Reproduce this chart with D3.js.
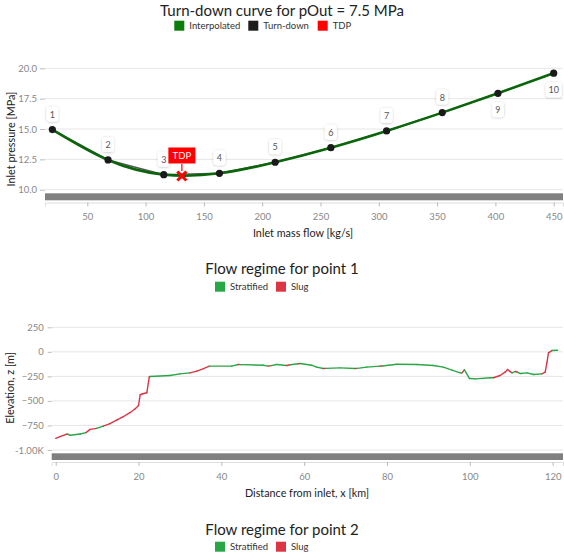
<!DOCTYPE html>
<html>
<head>
<meta charset="utf-8">
<script src="https://cdn.jsdelivr.net/npm/d3@7"></script>
<style>
  html, body { margin: 0; padding: 0; background: #fff; }
  svg { display: block; font-family: Lato, "Open Sans", sans-serif; }
</style>
</head>
<body>
<svg id="chart" width="564" height="556"></svg>
<script>
// ---------- Data: turn-down curve ----------
const pointIds      = [1, 2, 3, 4, 5, 6, 7, 8, 9, 10];
const massFlow      = [20, 67.78, 115.56, 163.33, 211.11, 258.89, 306.67, 354.44, 402.22, 450];
const inletPressure = [14.95, 12.45, 11.24, 11.35, 12.26, 13.46, 14.84, 16.35, 17.94, 19.6];
const labelSide     = ["above","above","above","above","above","above","above","above","below","below"];
const tdpFlow       = 131.1;
const tdpPressure   = 11.13;
const xTicks1       = [50, 100, 150, 200, 250, 300, 350, 400, 450];
const yTicks1       = [10, 12.5, 15, 17.5, 20];
const legend1       = ["Interpolated", "Turn-down", "TDP"];
const legend1Colors = ["#0a7d0a", "#1c1c1c", "#ff0000"];

// ---------- Data: flow regime for point 1 ----------
const distKm = [0.0, 1.0, 2.8, 3.5, 5.9, 7.3, 8.3, 9.9, 11.5, 13.1, 14.7, 16.3, 17.9, 19.2, 20.0, 20.4, 21.0, 22.0, 22.6, 22.8,
  27.6, 30.0, 32.4, 34.1, 35.7, 37.1, 42.5, 44.1, 44.6, 50.1, 51.4, 52.0, 53.4, 55.8, 56.6, 58.6, 59.0, 61.8, 63.0, 64.6,
  65.2, 68.7, 72.3, 72.8, 75.1, 78.3, 78.8, 82.4, 87.2, 91.2, 93.6, 95.7, 97.7, 98.1, 98.7, 99.9, 101.3, 104.9, 105.7, 107.3,
  108.5, 109.1, 109.6, 110.2, 111.0, 111.5, 112.2, 113.8, 115.4, 117.4, 118.2, 118.6, 119.0, 119.8, 121.2];
const elevationM = [-881, -864, -837, -850, -837, -823, -790, -780, -756, -732, -695, -661, -620, -580, -546, -437, -427, -417, -254, -251,
  -241, -224, -214, -197, -170, -146, -146, -129, -130, -136, -146, -140, -129, -139, -132, -122, -119, -136, -156, -170,
  -168, -163, -170, -168, -156, -146, -144, -126, -129, -139, -156, -187, -214, -214, -183, -271, -275, -264, -264, -241,
  -207, -180, -197, -214, -200, -208, -221, -214, -231, -224, -207, -112, -10, 13, 16];
// regime of the segment starting at each point: "S" stratified, "G" slug
const regime = ["G","G","S","S","S","G","G","S","G","G","G","G","G","G","G","G","G","G","G","S",
  "S","S","G","G","G","S","S","G","S","S","G","S","S","G","S","G","S","S","S","G",
  "S","S","G","S","S","G","S","S","S","S","S","S","S","G","S","S","S","S","G","G",
  "G","G","G","S","G","S","S","S","S","G","G","G","G","S","S"];
const xTicks2 = [0, 20, 40, 60, 80, 100, 120];
const yTicks2 = [250, 0, -250, -500, -750, -1000];
const legend2 = ["Stratified", "Slug"];
const legend2Colors = ["#28a745", "#dc3545"];

const svg = d3.select("#chart");
const gridColor = "#e6e6e6";
const tickColor = "#888";

const defs = svg.append("defs");
const f = defs.append("filter").attr("id", "shadow").attr("x", "-50%").attr("y", "-50%").attr("width", "200%").attr("height", "200%");
f.append("feDropShadow").attr("dx", 0).attr("dy", 0.5).attr("stdDeviation", 0.8).attr("flood-color", "#000").attr("flood-opacity", 0.25);

function legend(y, names, colors, xs) {
  names.forEach((n, i) => {
    svg.append("rect").attr("x", xs[i]).attr("y", y - 5).attr("width", 10).attr("height", 10).attr("fill", colors[i]);
    svg.append("text").attr("x", xs[i] + 15).attr("y", y + 3.6).attr("font-size", 9.5).attr("fill", "#333").text(n);
  });
}
function title(y, t) {
  svg.append("text").attr("x", 282).attr("y", y).attr("text-anchor", "middle").attr("font-size", 15).attr("fill", "#222").text(t);
}
function styleAxis(a) {
  a.select(".domain").attr("stroke", "#ddd");
  a.selectAll(".tick line").attr("stroke", "#bbb");
  a.selectAll(".tick text").attr("fill", tickColor).attr("font-size", 9.5).attr("font-family", "Lato");
}

// ================= Chart 1 =================
title(15.5, "Turn-down curve for pOut = 7.5 MPa");
legend(25.7, legend1, legend1Colors, [174.3, 248.3, 317.7]);

const x1 = d3.scaleLinear().domain([13.7, 458]).range([45, 563]);
const y1 = d3.scaleLinear().domain([10, 20]).range([189.7, 68.3]);

svg.append("g").selectAll("line").data(yTicks1).join("line")
  .attr("x1", 45).attr("x2", 563).attr("y1", d => y1(d)).attr("y2", d => y1(d))
  .attr("stroke", gridColor).attr("stroke-width", 1);
const ya1 = svg.append("g").attr("transform", "translate(45,0)")
  .call(d3.axisLeft(y1).tickValues(yTicks1).tickFormat(d3.format(".1f")).tickSize(5).tickPadding(3));
svg.append("rect").attr("x", 45).attr("y", 193.3).attr("width", 518).attr("height", 7).attr("fill", "#808080");
const xa1 = svg.append("g").attr("transform", "translate(0,202.5)")
  .call(d3.axisBottom(x1).tickValues(xTicks1).tickFormat(d3.format("d")).tickSize(4).tickPadding(7));
styleAxis(ya1); styleAxis(xa1);
ya1.select(".domain").remove();

svg.append("text").attr("x", 303).attr("y", 236.5).attr("text-anchor", "middle").attr("font-size", 10.8).attr("fill", "#222").text("Inlet mass flow [kg/s]");
svg.append("text").attr("transform", `translate(14.5,139) rotate(-90)`).attr("text-anchor", "middle").attr("font-size", 10.8).attr("fill", "#222").text("Inlet pressure [MPa]");

const pts = massFlow.map((m, i) => ({ x: m, y: inletPressure[i], id: pointIds[i], side: labelSide[i] }));
svg.append("path").datum(pts)
  .attr("d", d3.line().x(d => x1(d.x)).y(d => y1(d.y)))
  .attr("fill", "none").attr("stroke", "#555").attr("stroke-width", 1.5);
svg.append("path").datum(pts)
  .attr("d", d3.line().x(d => x1(d.x)).y(d => y1(d.y)).curve(d3.curveNatural))
  .attr("fill", "none").attr("stroke", "#0b650b").attr("stroke-width", 2.6);
svg.append("g").selectAll("circle").data(pts).join("circle")
  .attr("cx", d => x1(d.x)).attr("cy", d => y1(d.y)).attr("r", 3.6).attr("fill", "#1a1a1a");
const lab = svg.append("g").selectAll("g").data(pts).join("g")
  .attr("transform", d => `translate(${x1(d.x)},${y1(d.y) + (d.side === "above" ? -15 : 17)})`);
lab.append("rect").attr("x", d => d.id >= 10 ? -8 : -6).attr("y", -8).attr("width", d => d.id >= 10 ? 16 : 12).attr("height", 15)
  .attr("rx", 3).attr("fill", "#fff").attr("filter", "url(#shadow)");
lab.append("text").attr("text-anchor", "middle").attr("y", 3).attr("font-size", 9).attr("fill", "#555").text(d => d.id);

const tx = x1(tdpFlow), ty = y1(tdpPressure);
svg.append("path").attr("d", d3.symbol(d3.symbolX, 55)()).attr("transform", `translate(${tx},${ty})`)
  .attr("stroke", "#ff0000").attr("stroke-width", 3).attr("fill", "none");
svg.append("line").attr("x1", tx).attr("x2", tx).attr("y1", ty - 5).attr("y2", ty - 12).attr("stroke", "#ff0000").attr("stroke-width", 1.2);
svg.append("rect").attr("x", tx - 13.5).attr("y", ty - 28.5).attr("width", 27).attr("height", 16).attr("fill", "#ff0000");
svg.append("text").attr("x", tx).attr("y", ty - 17).attr("text-anchor", "middle").attr("font-size", 9.5).attr("fill", "#fff").text("TDP");

// ================= Chart 2 =================
title(274.3, "Flow regime for point 1");
legend(286.7, legend2, legend2Colors, [215, 276]);

const x2 = d3.scaleLinear().domain([-0.97, 122.5]).range([51.7, 563]);
const y2 = d3.scaleLinear().domain([-1000, 250]).range([450, 327.3]);

svg.append("g").selectAll("line").data(yTicks2).join("line")
  .attr("x1", 51.7).attr("x2", 563).attr("y1", d => y2(d)).attr("y2", d => y2(d))
  .attr("stroke", gridColor).attr("stroke-width", 1);
const ya2 = svg.append("g").attr("transform", "translate(51.7,0)")
  .call(d3.axisLeft(y2).tickValues(yTicks2).tickFormat(d => d === -1000 ? "-1.00K" : d3.format(",")(d)).tickSize(4).tickPadding(4));
svg.append("rect").attr("x", 51.7).attr("y", 453.3).attr("width", 511.3).attr("height", 6.7).attr("fill", "#808080");
const xa2 = svg.append("g").attr("transform", "translate(0,462)")
  .call(d3.axisBottom(x2).tickValues(xTicks2).tickFormat(d3.format("d")).tickSize(4).tickPadding(7));
styleAxis(ya2); styleAxis(xa2);
ya2.select(".domain").remove();

svg.append("text").attr("x", 307).attr("y", 497).attr("text-anchor", "middle").attr("font-size", 10.8).attr("fill", "#222").text("Distance from inlet, x [km]");
svg.append("text").attr("transform", `translate(14,388) rotate(-90)`).attr("text-anchor", "middle").attr("font-size", 10.8).attr("fill", "#222").text("Elevation, z [m]");

const prof = distKm.map((k, i) => ({ x: k, z: elevationM[i], r: regime[i] }));
const segs = prof.slice(0, -1).map((p, i) => [p, prof[i + 1]]);
svg.append("g").selectAll("path").data(segs).join("path")
  .attr("d", d3.line().x(d => x2(d.x)).y(d => y2(d.z)))
  .attr("fill", "none").attr("stroke-linecap", "round")
  .attr("stroke", d => d[0].r === "G" ? legend2Colors[1] : legend2Colors[0]).attr("stroke-width", 1.4);

// ================= Chart 3 (header only visible) =================
title(535, "Flow regime for point 2");
legend(546.7, legend2, legend2Colors, [215, 276]);
</script>
</body>
</html>
